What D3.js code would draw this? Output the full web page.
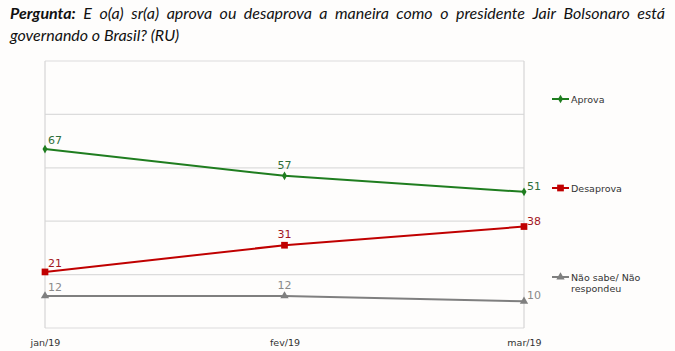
<!DOCTYPE html>
<html><head><meta charset="utf-8">
<script src="https://cdn.jsdelivr.net/npm/d3@7"></script>
<style>
html,body{margin:0;padding:0;background:#fefdfc;}
svg{display:block;}
</style></head>
<body>
<svg id="c" width="675" height="351"></svg>
<script>
const months = ["jan/19", "fev/19", "mar/19"];
const aprova = [67, 57, 51];
const desaprova = [21, 31, 38];
const naoSabe = [12, 12, 10];
const seriesNames = ["Aprova", "Desaprova", "Não sabe/ Não respondeu"];
const yTicks = [0, 20, 40, 60, 80, 100];

const series = [
  {name: seriesNames[0], values: aprova, color: "#1f7d1f", label: "#2f6f3a", sym: d3.symbolDiamond, size: 22},
  {name: seriesNames[1], values: desaprova, color: "#c00000", label: "#a3161e", sym: d3.symbolSquare, size: 45},
  {name: seriesNames[2], values: naoSabe, color: "#7f7f7f", label: "#8a8a8a", sym: d3.symbolTriangle, size: 30}
];

const svg = d3.select("#c");
const x = d3.scalePoint().domain(months).range([45, 524]);
const y = d3.scaleLinear().domain([0, 100]).range([328, 61]);

// title (justified first line: words placed individually)
const title = svg.append("g").attr("font-family", "Lato, 'Open Sans', sans-serif").attr("font-style", "italic").attr("font-size", 16).attr("fill", "#111");
const words = ["E","o(a)","sr(a)","aprova","ou","desaprova","a","maneira","como","o","presidente","Jair","Bolsonaro","está"];
const tmp = title.append("text").attr("font-weight", "bold").text("Pergunta:");
const wb = tmp.node().getComputedTextLength();
tmp.attr("x", 10).attr("y", 19);
const widths = words.map(w => { const t = title.append("text").text(w); const l = t.node().getComputedTextLength(); t.remove(); return l; });
const total = wb + d3.sum(widths);
const gap = (655 - total) / words.length;
let cx = 10 + wb + gap;
words.forEach((w, i) => { title.append("text").attr("x", cx).attr("y", 19).text(w); cx += widths[i] + gap; });
title.append("text").attr("x", 10).attr("y", 41).text("governando o Brasil? (RU)");

// grid
svg.append("g").selectAll("line").data(yTicks).join("line")
  .attr("x1", 45).attr("x2", 524).attr("y1", d => y(d)).attr("y2", d => y(d))
  .attr("stroke", "#dcdcdc").attr("stroke-width", 1.2);
svg.append("line").attr("x1", 45).attr("x2", 45).attr("y1", 61).attr("y2", 328).attr("stroke", "#d6d6d6").attr("stroke-width", 1.2);
svg.append("line").attr("x1", 524).attr("x2", 524).attr("y1", 61).attr("y2", 328).attr("stroke", "#d6d6d6").attr("stroke-width", 1.2);

// x axis
const xa = svg.append("g").attr("transform", "translate(0,328)")
  .call(d3.axisBottom(x).tickSize(0).tickPadding(11));
xa.select(".domain").remove();
xa.selectAll("text").attr("font-family", "Verdana, 'DejaVu Sans', sans-serif").attr("font-size", 9.5).attr("fill", "#333");

// lines
const line = d3.line().x((d, i) => x(months[i])).y(d => y(d));
const labelDx = [3, 0, 3];
const labelAnchor = ["start", "middle", "start"];
const labelDy = [-5, -7, -2];
series.forEach(s => {
  const g = svg.append("g");
  g.append("path").attr("d", line(s.values)).attr("fill", "none").attr("stroke", s.color).attr("stroke-width", 2);
  g.selectAll("path.m").data(s.values).join("path").attr("class", "m")
    .attr("transform", (d, i) => `translate(${x(months[i])},${y(d)})`)
    .attr("d", d3.symbol().type(s.sym).size(s.size)).attr("fill", s.color);
  g.selectAll("text").data(s.values).join("text")
    .attr("x", (d, i) => x(months[i]) + labelDx[i])
    .attr("y", (d, i) => y(d) + labelDy[i])
    .attr("text-anchor", (d, i) => labelAnchor[i])
    .attr("font-family", "Verdana, 'DejaVu Sans', sans-serif").attr("font-size", 11)
    .attr("fill", s.label).text(d => d);
});

// legend
const legY = [99, 188, 277];
series.forEach((s, i) => {
  const g = svg.append("g").attr("transform", `translate(552,${legY[i]})`);
  g.append("line").attr("x1", 0).attr("x2", 17).attr("stroke", s.color).attr("stroke-width", 2);
  g.append("path").attr("transform", "translate(8.5,0)").attr("d", d3.symbol().type(s.sym).size(s.size)).attr("fill", s.color);
  const t = g.append("text").attr("x", 19).attr("y", 4).attr("font-family", "Verdana, 'DejaVu Sans', sans-serif").attr("font-size", 9.5).attr("fill", "#333");
  if (i === 2) {
    t.append("tspan").attr("x", 19).text("Não sabe/ Não");
    t.append("tspan").attr("x", 19).attr("dy", 11).text("respondeu");
  } else t.text(s.name);
});
</script>
</body></html>
